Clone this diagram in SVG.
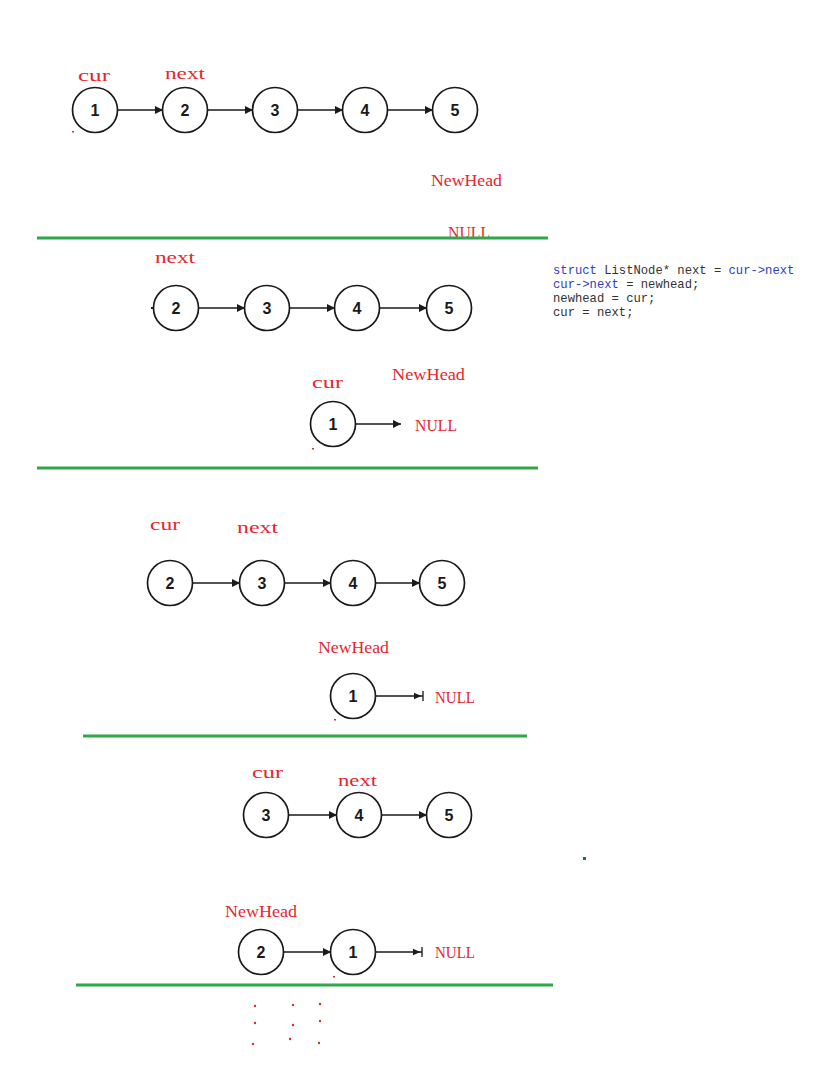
<svg xmlns="http://www.w3.org/2000/svg" width="836" height="1074" viewBox="0 0 836 1074">
<defs>
<style>
.n circle{fill:#fff;stroke:#1a1a1a;stroke-width:1.7}
.n text{font-family:"Liberation Sans",Arial,sans-serif;font-weight:bold;font-size:16px;fill:#1a1a1a;text-anchor:middle}
.e{stroke:#1a1a1a;stroke-width:1.4;fill:none}
.a{marker-end:url(#ah)}
.b{marker-end:url(#ab)}
.lbl{font-family:"Liberation Serif","Times New Roman",serif;font-size:16px;fill:#e8262e}
.g{stroke:#2fa84a;stroke-width:3;fill:none}
.code{font-family:"Liberation Mono","DejaVu Sans Mono",monospace;font-size:12.2px;fill:#333}
.kw{fill:#2b3fbf}
.dot{fill:#e8262e}
</style>
<marker id="ah" viewBox="0 0 10 10" refX="10" refY="5" markerWidth="8" markerHeight="8" markerUnits="userSpaceOnUse" orient="auto"><path d="M0,0 L10,5 L0,10 Z" fill="#1a1a1a"/></marker>
<marker id="ab" viewBox="0 0 12 12" refX="11" refY="6" markerWidth="10" markerHeight="10" markerUnits="userSpaceOnUse" orient="auto"><path d="M0,2 L9,6 L0,10 Z" fill="#1a1a1a"/><path d="M11,0 L11,12" stroke="#1a1a1a" stroke-width="1.6"/></marker>
</defs>
<rect width="836" height="1074" fill="#fff"/>

<g id="connectors">
<line class="e a" x1="117" y1="110" x2="163" y2="110"/>
<line class="e a" x1="207" y1="110" x2="253" y2="110"/>
<line class="e a" x1="297" y1="110" x2="343" y2="110"/>
<line class="e a" x1="387" y1="110" x2="433" y2="110"/>

<line class="e a" x1="198" y1="308" x2="245" y2="308"/>
<line class="e a" x1="289" y1="308" x2="335" y2="308"/>
<line class="e a" x1="379" y1="308" x2="427" y2="308"/>
<line class="e a" x1="355" y1="424" x2="401" y2="424"/>

<line class="e a" x1="192" y1="583" x2="240" y2="583"/>
<line class="e a" x1="284" y1="583" x2="331" y2="583"/>
<line class="e a" x1="375" y1="583" x2="420" y2="583"/>
<line class="e b" x1="375" y1="696" x2="423" y2="696"/>

<line class="e a" x1="288" y1="815" x2="337" y2="815"/>
<line class="e a" x1="381" y1="815" x2="427" y2="815"/>

<line class="e a" x1="283" y1="952" x2="331" y2="952"/>
<line class="e b" x1="375" y1="952" x2="422" y2="952"/>
</g>

<g id="row1">
<g id="r1n1" class="n"><circle cx="95" cy="110" r="22.5"/><text x="95" y="116">1</text></g>
<g id="r1n2" class="n"><circle cx="185" cy="110" r="22.5"/><text x="185" y="116">2</text></g>
<g id="r1n3" class="n"><circle cx="275" cy="110" r="22.5"/><text x="275" y="116">3</text></g>
<g id="r1n4" class="n"><circle cx="365" cy="110" r="22.5"/><text x="365" y="116">4</text></g>
<g id="r1n5" class="n"><circle cx="455" cy="110" r="22.5"/><text x="455" y="116">5</text></g>
<text class="lbl" x="78" y="81" textLength="32" lengthAdjust="spacingAndGlyphs">cur</text>
<text class="lbl" x="165" y="79" textLength="40" lengthAdjust="spacingAndGlyphs">next</text>
<text class="lbl" x="431" y="186" textLength="71" lengthAdjust="spacingAndGlyphs">NewHead</text>
<text class="lbl" x="448" y="238" textLength="42" lengthAdjust="spacingAndGlyphs">NULL</text>
<rect class="dot" x="72" y="131" width="2" height="1.5"/>
</g>
<line class="g" x1="37" y1="238" x2="548" y2="238"/>

<g id="row2">
<g id="r2n2" class="n"><circle cx="176" cy="308" r="22.5"/><text x="176" y="314">2</text></g>
<g id="r2n3" class="n"><circle cx="267" cy="308" r="22.5"/><text x="267" y="314">3</text></g>
<g id="r2n4" class="n"><circle cx="357" cy="308" r="22.5"/><text x="357" y="314">4</text></g>
<g id="r2n5" class="n"><circle cx="449" cy="308" r="22.5"/><text x="449" y="314">5</text></g>
<g id="r2n1" class="n"><circle cx="333" cy="424" r="22.5"/><text x="333" y="430">1</text></g>
<rect x="151" y="307" width="2" height="2" fill="#1a1a1a"/>
<text class="lbl" x="155" y="263" textLength="40" lengthAdjust="spacingAndGlyphs">next</text>
<text class="lbl" x="312" y="388" textLength="31" lengthAdjust="spacingAndGlyphs">cur</text>
<text class="lbl" x="392" y="380" textLength="73" lengthAdjust="spacingAndGlyphs">NewHead</text>
<text class="lbl" x="415" y="431" textLength="42" lengthAdjust="spacingAndGlyphs">NULL</text>
<rect class="dot" x="312" y="448" width="2" height="1.5"/>
</g>
<g id="code">
<text class="code" x="553" y="274"><tspan class="kw">struct</tspan> ListNode* next = <tspan class="kw">cur-&gt;next</tspan></text>
<text class="code" x="553" y="288"><tspan class="kw">cur-&gt;next</tspan> = newhead;</text>
<text class="code" x="553" y="302">newhead = cur;</text>
<text class="code" x="553" y="316">cur = next;</text>
</g>
<line class="g" x1="37" y1="468" x2="538" y2="468"/>

<g id="row3">
<g id="r3n2" class="n"><circle cx="170" cy="583" r="22.5"/><text x="170" y="589">2</text></g>
<g id="r3n3" class="n"><circle cx="262" cy="583" r="22.5"/><text x="262" y="589">3</text></g>
<g id="r3n4" class="n"><circle cx="353" cy="583" r="22.5"/><text x="353" y="589">4</text></g>
<g id="r3n5" class="n"><circle cx="442" cy="583" r="22.5"/><text x="442" y="589">5</text></g>
<g id="r3n1" class="n"><circle cx="353" cy="696" r="22.5"/><text x="353" y="702">1</text></g>
<text class="lbl" x="150" y="530" textLength="30" lengthAdjust="spacingAndGlyphs">cur</text>
<text class="lbl" x="237" y="533" textLength="41" lengthAdjust="spacingAndGlyphs">next</text>
<text class="lbl" x="318" y="653" textLength="71" lengthAdjust="spacingAndGlyphs">NewHead</text>
<text class="lbl" x="435" y="703" textLength="40" lengthAdjust="spacingAndGlyphs">NULL</text>
<rect class="dot" x="334" y="719" width="2" height="1.5"/>
</g>
<line class="g" x1="83" y1="736" x2="527" y2="736"/>

<g id="row4">
<g id="r4n3" class="n"><circle cx="266" cy="815" r="22.5"/><text x="266" y="821">3</text></g>
<g id="r4n4" class="n"><circle cx="359" cy="815" r="22.5"/><text x="359" y="821">4</text></g>
<g id="r4n5" class="n"><circle cx="449" cy="815" r="22.5"/><text x="449" y="821">5</text></g>
<text class="lbl" x="252" y="778" textLength="31" lengthAdjust="spacingAndGlyphs">cur</text>
<text class="lbl" x="338" y="786" textLength="39" lengthAdjust="spacingAndGlyphs">next</text>
<rect x="583" y="857" width="3" height="3" fill="#1e7a3a"/>
</g>

<g id="row5">
<g id="r5n2" class="n"><circle cx="261" cy="952" r="22.5"/><text x="261" y="958">2</text></g>
<g id="r5n1" class="n"><circle cx="353" cy="952" r="22.5"/><text x="353" y="958">1</text></g>
<text class="lbl" x="225" y="917" textLength="72" lengthAdjust="spacingAndGlyphs">NewHead</text>
<text class="lbl" x="435" y="958" textLength="40" lengthAdjust="spacingAndGlyphs">NULL</text>
<rect class="dot" x="333" y="976" width="2" height="1.5"/>
</g>
<line class="g" x1="76" y1="985" x2="553" y2="985"/>

<g id="dots">
<circle class="dot" cx="255" cy="1006" r="1.2"/>
<circle class="dot" cx="293" cy="1005" r="1.2"/>
<circle class="dot" cx="320" cy="1004" r="1.2"/>
<circle class="dot" cx="255" cy="1023" r="1.2"/>
<circle class="dot" cx="293" cy="1025" r="1.2"/>
<circle class="dot" cx="320" cy="1021" r="1.2"/>
<circle class="dot" cx="253" cy="1044" r="1.2"/>
<circle class="dot" cx="290" cy="1039" r="1.2"/>
<circle class="dot" cx="319" cy="1043" r="1.2"/>
</g>
</svg>
